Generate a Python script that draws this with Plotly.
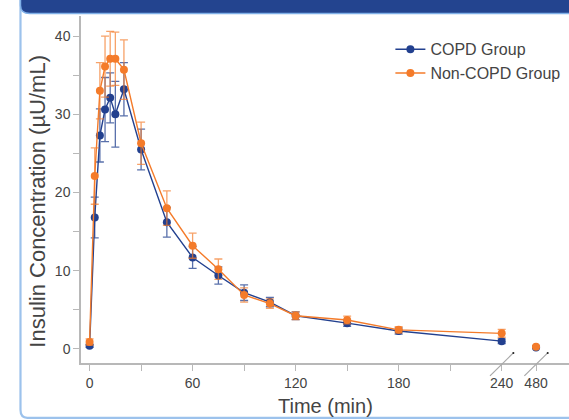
import plotly.graph_objects as go

# ---------------- data ----------------
time_min = [0, 3, 6, 9, 12, 15, 20, 30, 45, 60, 75, 90, 105, 120, 150, 180, 240, 480]
copd = [0.4, 16.8, 27.3, 30.6, 32.1, 30.0, 33.2, 25.5, 16.2, 11.7, 9.4, 7.2, 6.0, 4.25, 3.3, 2.3, 1.0, 0.2]
copd_err = [0.2, 2.6, 3.4, 4.1, 3.2, 4.2, 3.4, 2.6, 1.9, 1.4, 1.1, 1.0, 0.6, 0.5, 0.4, 0.4, 0.3, 0.1]
noncopd = [0.9, 22.1, 33.0, 36.1, 37.1, 37.1, 35.7, 26.3, 18.0, 13.2, 10.2, 6.9, 5.8, 4.25, 3.7, 2.45, 2.0, 0.3]
noncopd_err = [0.4, 3.6, 3.6, 3.9, 3.5, 3.4, 3.8, 2.7, 2.2, 1.6, 1.3, 0.9, 0.6, 0.5, 0.5, 0.4, 0.5, 0.1]
series_names = ["COPD Group", "Non-COPD Group"]
x_tick_labels = ["0", "60", "120", "180", "240", "480"]
y_tick_labels = ["0", "10", "20", "30", "40"]

# ---------------- styling ----------------
BLUE = "#22408f"
ORANGE = "#f47b2a"
BLUE_ERR = "rgba(34,64,143,0.75)"
ORANGE_ERR = "rgba(244,123,42,0.7)"
TXT = "#444444"
AXIS = "#b8b8b8"
BREAK_AT = 240
BREAK_GAP = 20  # axis units between 240 and the 480 tick


def axis_pos(t):
    return t if t <= BREAK_AT else BREAK_AT + BREAK_GAP


def with_gap(vals):
    out = []
    for t, v in zip(time_min, vals):
        if t > BREAK_AT:
            out.append(None)
        out.append(v)
    return out


xs = with_gap([axis_pos(t) for t in time_min])

fig = go.Figure()
for name, ys, es, col, ecol in [
    (series_names[0], copd, copd_err, BLUE, BLUE_ERR),
    (series_names[1], noncopd, noncopd_err, ORANGE, ORANGE_ERR),
]:
    fig.add_trace(go.Scatter(
        x=xs, y=with_gap(ys), name=name, mode="lines+markers",
        connectgaps=False,
        line=dict(color=col, width=1.4),
        marker=dict(color=col, size=8),
        error_y=dict(type="data", array=with_gap(es), visible=True,
                     color=ecol, thickness=1.3, width=4),
    ))

major_x = [0, 60, 120, 180, 240, 480]
minor_x = [30, 90, 150, 210]
tickvals = [axis_pos(t) for t in major_x] + minor_x
ticktext = x_tick_labels + [""] * len(minor_x)

yticks = [0, 10, 20, 30, 40]
yminor = [5, 15, 25, 35]

fig.update_layout(
    width=569, height=420,
    margin=dict(l=81, r=0, t=16, b=57, autoexpand=False),
    paper_bgcolor="white", plot_bgcolor="white",
    font=dict(family="Liberation Sans, Arial, sans-serif", color=TXT, size=13),
    showlegend=True,
    legend=dict(x=0.634, y=0.953, xanchor="left", yanchor="top",
                bgcolor="rgba(0,0,0,0)", font=dict(size=16, color=TXT),
                tracegroupgap=0, itemwidth=30),
    xaxis=dict(range=[-5, 279.2], showgrid=False, zeroline=False,
               showline=True, linecolor=AXIS, linewidth=1.5,
               tickmode="array", tickvals=tickvals, ticktext=ticktext,
               ticks="outside", ticklen=6, tickcolor=AXIS, tickwidth=1,
               tickfont=dict(size=14, color=TXT)),
    yaxis=dict(range=[-1.79, 42.56], showgrid=False, zeroline=False,
               showline=True, linecolor=AXIS, linewidth=1.5,
               tickmode="array", tickvals=yticks + yminor,
               ticktext=y_tick_labels + [""] * len(yminor),
               ticks="outside", ticklen=6, tickcolor=AXIS, tickwidth=1,
               tickfont=dict(size=14, color=TXT)),
)

# axis titles as annotations (placed like the reference)
fig.add_annotation(text="Insulin Concentration (µU/mL)", textangle=-90,
                   xref="paper", yref="paper", x=-0.088, y=0.465,
                   xanchor="center", yanchor="middle", showarrow=False,
                   font=dict(size=22, color=TXT))
fig.add_annotation(text="Time (min)",
                   xref="paper", yref="paper", x=0.5, y=-0.124,
                   xanchor="center", yanchor="middle", showarrow=False,
                   font=dict(size=20, color=TXT))

# axis break marks at 240 and 480
for t in [240, 480]:
    p = axis_pos(t)
    fig.add_shape(type="line", xref="x", yref="paper",
                  x0=p - 6.8, x1=p + 6.8, y0=-0.037, y1=0.029,
                  line=dict(color="#a8a8a8", width=1.2))
    fig.add_shape(type="circle", xref="x", yref="paper",
                  x0=p + 6.2, x1=p + 7.4, y0=0.026, y1=0.032,
                  fillcolor="#222", line=dict(width=0))

# frame: light-blue rounded border and dark-blue header strip
fig.add_shape(type="path", xref="paper", yref="paper", layer="above",
              path="M -0.124,1.1 L -0.124,-0.135 Q -0.124,-0.158 -0.11,-0.158 L 1.1,-0.158",
              line=dict(color="#9cc2ec", width=2.2))
fig.add_shape(type="path", xref="paper", yref="paper", layer="above",
              path="M -0.124,1.1 L -0.124,1.03 Q -0.124,1.007 -0.105,1.007 L 1.1,1.007 L 1.1,1.1 Z",
              fillcolor="#23448f", line=dict(color="#7fb0e8", width=1.5))

fig.write_html("out.html", config={"displayModeBar": False},
               post_script="document.body.style.margin='0px';document.body.style.overflow='hidden';")
